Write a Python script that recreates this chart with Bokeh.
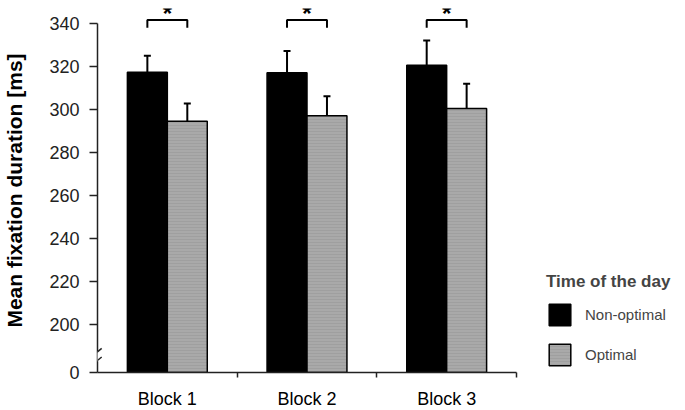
from bokeh.plotting import figure
from bokeh.models import (ColumnDataSource, FixedTicker, Whisker, TeeHead, Legend,
                          LegendItem, Arrow, Range1d)
from bokeh.core.properties import value
from bokeh.embed import file_html
from bokeh.resources import INLINE

# ---- data ----
blocks = ["Block 1", "Block 2", "Block 3"]
non_optimal = [317.2, 316.9, 320.4]
non_optimal_err = [7.6, 10.1, 11.5]
optimal = [294.4, 296.9, 300.3]
optimal_err = [8.2, 9.1, 11.5]
y_tick_values = [0, 200, 220, 240, 260, 280, 300, 320, 340]
sig_level = 341.5
sig_marks = ["*", "*", "*"]

# ---- broken axis transform: 0 .. (gap) .. 200..340 ----
BREAK_LOW = 200
BREAK_GAP = 22.5


def tr(v):
    if v >= BREAK_LOW:
        return v - BREAK_LOW + BREAK_GAP
    return v * BREAK_GAP / BREAK_LOW


FONT = "Liberation Sans"
centers = [i + 0.5 for i in range(len(blocks))]
dodge = 0.143
bw = 0.286

src_non = ColumnDataSource(dict(
    x=[c - dodge for c in centers],
    top=[tr(v) for v in non_optimal],
    up=[tr(v + e) for v, e in zip(non_optimal, non_optimal_err)],
))
src_opt = ColumnDataSource(dict(
    x=[c + dodge for c in centers],
    top=[tr(v) for v in optimal],
    up=[tr(v + e) for v, e in zip(optimal, optimal_err)],
))

p = figure(frame_width=419, frame_height=364, x_range=Range1d(0, 3),
           y_range=Range1d(0, tr(346.8)),
           output_backend="svg", toolbar_location=None,
           min_border_left=96, min_border_right=0, min_border_top=8,
           min_border_bottom=36)
p.outline_line_color = None
p.xgrid.visible = False
p.ygrid.visible = False
p.background_fill_color = "white"

r_non = p.vbar(x="x", top="top", bottom=0, width=bw, source=src_non,
               fill_color="black", line_color="black", line_width=1.5)
r_opt = p.vbar(x="x", top="top", bottom=0, width=bw, source=src_opt,
               fill_color="#a9a9a9", line_color="black", line_width=1.5,
               hatch_pattern="horizontal_line", hatch_color="#979797",
               hatch_scale=3, hatch_weight=1, hatch_alpha=0.6)

for src in (src_non, src_opt):
    w = Whisker(base="x", lower="top", upper="up", source=src,
                line_color="black", line_width=2, dimension="height",
                lower_head=None,
                upper_head=TeeHead(size=7, line_color="black", line_width=2))
    p.add_layout(w)

# significance brackets
xs, ys = [], []
for c in centers:
    xs.append([c - dodge, c - dodge, c + dodge, c + dodge])
    ys.append([tr(sig_level - 3.6), tr(sig_level), tr(sig_level), tr(sig_level - 3.6)])
p.multi_line(xs=xs, ys=ys, line_color="black", line_width=2)
p.text(x=centers, y=[tr(sig_level)] * 3, text=sig_marks, text_align="center",
       text_baseline="bottom", text_font=value(FONT), text_font_size="24px",
       text_font_style="bold", y_offset=7, text_color="black")

# axes
yax = p.yaxis[0]
yax.ticker = FixedTicker(ticks=[tr(v) for v in y_tick_values])
yax.major_label_overrides = {tr(v): str(v) for v in y_tick_values}
yax.bounds = (0, tr(340))
yax.minor_tick_line_color = None
yax.major_tick_in = 0
yax.major_tick_out = 8
yax.major_label_standoff = 10
yax.axis_line_width = 1.5
yax.axis_line_color = "#222222"
yax.major_tick_line_width = 1.5
yax.major_tick_line_color = "#222222"
yax.major_label_text_font = FONT
yax.major_label_text_font_size = "18px"
yax.major_label_text_color = "#222222"
yax.axis_label = "Mean fixation duration [ms]"
yax.axis_label_text_font = FONT
yax.axis_label_text_font_size = "21px"
yax.axis_label_text_font_style = "bold"
yax.axis_label_text_color = "black"
yax.axis_label_standoff = 20

xax = p.xaxis[0]
xax.ticker = FixedTicker(ticks=centers, minor_ticks=[1, 2, 3])
xax.major_label_overrides = {c: b for c, b in zip(centers, blocks)}
xax.major_tick_line_color = None
xax.major_tick_in = 0
xax.major_tick_out = 0
xax.minor_tick_in = 0
xax.minor_tick_out = 5
xax.minor_tick_line_width = 1.5
xax.minor_tick_line_color = "#222222"
xax.axis_line_width = 1.5
xax.axis_line_color = "#222222"
xax.major_label_standoff = 11
xax.major_label_text_font = FONT
xax.major_label_text_font_size = "18px"
xax.major_label_text_color = "black"

# axis break marks
gap = Arrow(end=None, x_start=0, y_start=5.2, x_end=0, y_end=9.8,
            line_color="white", line_width=4, level="overlay")
p.add_layout(gap)
for y0 in (4.0, 8.0):
    p.add_layout(Arrow(end=None, x_start=-0.03, y_start=y0, x_end=0.03,
                       y_end=y0 + 3.2, line_color="#222222", line_width=1.5,
                       level="overlay"))

legend = Legend(items=[LegendItem(label="Non-optimal", renderers=[r_non]),
                       LegendItem(label="Optimal", renderers=[r_opt])],
                location=(30, 4), margin=0, padding=0,
                title="Time of the day", title_text_font=FONT,
                title_text_font_size="17px", title_text_font_style="bold",
                title_standoff=9,
                label_text_font=FONT, label_text_font_size="15px",
                glyph_width=27, glyph_height=27, spacing=13,
                label_standoff=12, border_line_color=None,
                background_fill_alpha=0)
p.add_layout(legend, "right")

open("out.html", "w").write(file_html(p, INLINE))
